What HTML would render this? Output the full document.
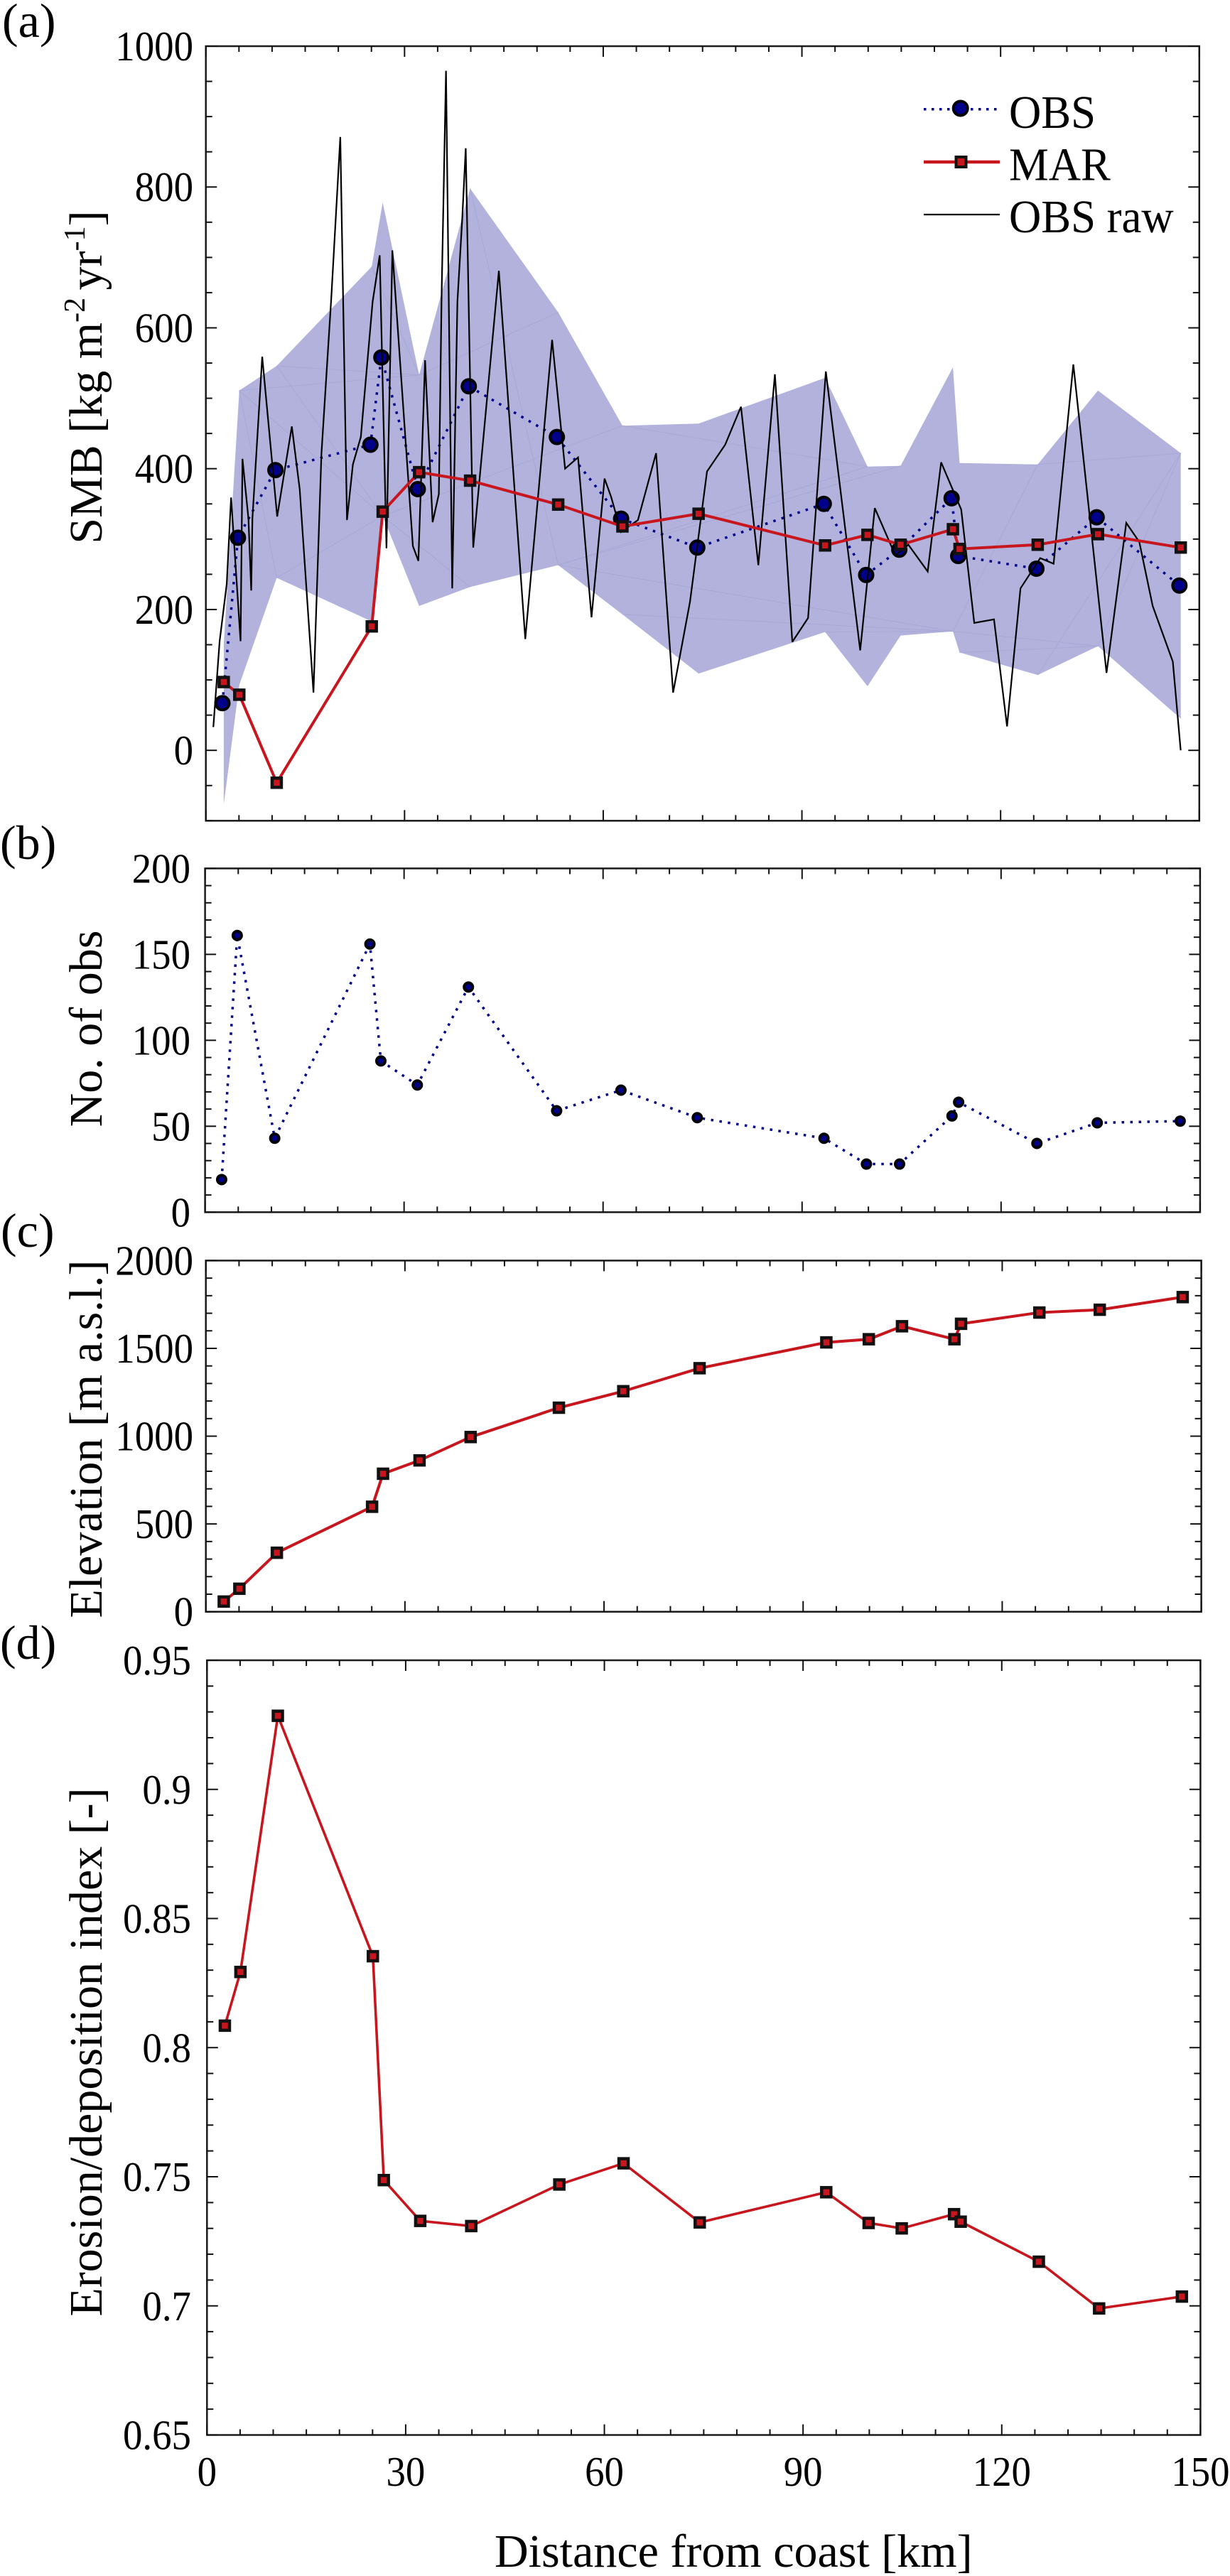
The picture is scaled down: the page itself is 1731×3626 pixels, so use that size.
<!DOCTYPE html>
<html lang="en">
<head>
<meta charset="utf-8">
<title>SMB, number of observations, elevation and erosion/deposition index vs distance from coast</title>
<style>
  html, body { margin: 0; padding: 0; background: #fff; }
  svg { display: block; }
  text { font-family: "Liberation Serif", serif; fill: #000; }
</style>
</head>
<body>
<svg id="figure" xmlns="http://www.w3.org/2000/svg" width="1731" height="3626" viewBox="0 0 1731 3626">
  <rect x="0" y="0" width="1731" height="3626" fill="#fff"/>

  <g id="panel-a"></g>
  <g id="panel-b"></g>
  <g id="panel-c"></g>
  <g id="panel-d"></g>

  <text x="3" y="52" font-size="68">(a)</text>
  <text x="0" y="1209" font-size="68">(b)</text>
  <text x="1" y="1755" font-size="68">(c)</text>
  <text x="0" y="2335" font-size="68">(d)</text>

  <text font-size="66" text-anchor="middle" transform="translate(143,531) rotate(-90)">SMB [kg m<tspan font-size="42" dy="-24">-2 </tspan><tspan dy="24">yr</tspan><tspan font-size="42" dy="-24">-1</tspan><tspan dy="24">]</tspan></text>
  <text font-size="66" text-anchor="middle" transform="translate(143,1448) rotate(-90)">No. of obs</text>
  <text font-size="66" text-anchor="middle" transform="translate(143,2025.5) rotate(-90)">Elevation [m a.s.l.]</text>
  <text font-size="66" text-anchor="middle" transform="translate(143,2888.5) rotate(-90)">Erosion/deposition index [-]</text>
  <text x="696" y="3613" font-size="66">Distance from coast [km]</text>

  <g>
    <line x1="1300" y1="153.8" x2="1407" y2="153.8" stroke="#00008b" stroke-width="3.5" stroke-dasharray="3.5,7.5"/>
    <circle cx="1351.7" cy="152.5" r="10" fill="#00008b" stroke="#000" stroke-width="4"/>
    <text font-size="66" transform="translate(1420,180) scale(0.95,1)">OBS</text>
    <line x1="1300" y1="228" x2="1407" y2="228" stroke="#c8161e" stroke-width="4.5"/>
    <rect x="1345.5" y="221" width="14" height="14" fill="#c8161e" stroke="#111" stroke-width="4"/>
    <text font-size="66" transform="translate(1420,253.4) scale(0.95,1)">MAR</text>
    <line x1="1300" y1="302" x2="1407" y2="302" stroke="#000" stroke-width="2.2"/>
    <text font-size="66" transform="translate(1420,327) scale(0.95,1)">OBS raw</text>
  </g>
</svg>

<script>
// ---- Data ----
const marDistanceKm = [2.7, 5.05, 10.7, 25.05, 26.7, 32.2, 39.9, 53.2, 62.9, 74.4, 93.5, 99.9, 104.9, 112.8, 113.8, 125.6, 134.7, 147.2];
const obsDistanceKm = [2.5, 4.85, 10.5, 24.85, 26.5, 32.0, 39.7, 53.0, 62.7, 74.2, 93.3, 99.7, 104.7, 112.6, 113.6, 125.4, 134.5, 147.0];
const marSmb = [97, 79, -46, 176, 339, 395, 383, 349, 318, 336, 291, 306, 292, 314, 286, 292, 307, 288];
const obsSmb = [67, 302, 398, 434, 558, 371, 517, 445, 329, 288, 350, 249, 285, 358, 276, 258, 331, 234];
const bandUpper = [150, 511, 546, 687, 778, 533, 798, 622, 461, 464, 529, 403, 404, 544, 408, 406, 511, 422];
const bandLower = [-77, 93, 245, 183, 333, 205, 232, 263, 193, 109, 168, 91, 163, 169, 139, 107, 148, 45];
const bandSeams = [
  ['u',1,'u',5], ['u',2,'u',5], ['u',5,'u',7], ['u',3,'u',5], ['u',1,'l',2],
  ['u',2,'l',4], ['l',2,'l',4], ['l',4,'l',6], ['l',4,'u',8], ['u',1,'l',4],
  ['l',7,'u',11], ['u',8,'u',11], ['u',12,'l',7], ['l',7,'l',13], ['l',8,'l',13], ['l',10,'l',13],
  ['l',13,'u',15], ['l',13,'l',16], ['l',14,'l',16], ['l',16,'u',17], ['l',15,'u',17], ['u',15,'u',17],
  ['u',6,'l',7]
];
const rawDistanceKm = [1.13, 2.08, 3.15, 3.81, 5.24, 5.53, 6.43, 6.85, 7.03, 8.51, 10.77, 12.98, 14.17, 16.25, 17.45, 18.93, 20.3, 21.31, 22.2, 23.4, 25.18, 26.25, 27.27, 28.16, 31.26, 32.09, 33.1, 34.24, 35.18, 35.6, 36.26, 37.2, 37.98, 38.7, 39.24, 40.37, 44.24, 48.23, 52.28, 54.24, 56.2, 58.23, 60.2, 61.19, 62.68, 65.24, 67.98, 70.55, 73.1, 75.67, 78.41, 80.8, 83.42, 85.92, 88.55, 90.93, 93.61, 98.8, 101, 104.1, 106.07, 108.99, 111.02, 114.05, 116.02, 119, 120.97, 123, 125.98, 128, 130.98, 135.99, 138.97, 140.94, 142.96, 146, 147.19];
const rawSmb = [33, 155, 236, 359, 155, 414, 329, 227, 329, 559, 332, 460, 371, 82, 421, 641, 871, 327, 406, 445, 637, 703, 287, 710, 290, 269, 554, 324, 364, 649, 965, 230, 637, 753, 855, 288, 681, 158, 583, 400, 416, 189, 386, 360, 310, 327, 422, 82, 211, 396, 434, 488, 263, 534, 154, 188, 538, 142, 344, 277, 292, 254, 409, 342, 181, 186, 34, 230, 273, 265, 548, 110, 323, 296, 205, 126, 0];
const obsCount = [19, 161, 43, 156, 88, 74, 131, 59, 71, 55, 43, 28, 28, 56, 64, 40, 52, 53];
const elevation = [58, 131, 336, 598, 786, 862, 995, 1162, 1256, 1387, 1534, 1552, 1626, 1552, 1640, 1704, 1720, 1792];
const erosionIndex = [0.8085, 0.8293, 0.9285, 0.8354, 0.7487, 0.7329, 0.7309, 0.7470, 0.7552, 0.7323, 0.7440, 0.7321, 0.7300, 0.7355, 0.7326, 0.7171, 0.6990, 0.7036];

// ---- Tick values and labels ----
const xTickValues = [0, 30, 60, 90, 120, 150];
const xTickLabels = ['0', '30', '60', '90', '120', '150'];
const smbTickValues = [0, 200, 400, 600, 800, 1000];
const smbTickLabels = ['0', '200', '400', '600', '800', '1000'];
const countTickValues = [0, 50, 100, 150, 200];
const countTickLabels = ['0', '50', '100', '150', '200'];
const elevationTickValues = [0, 500, 1000, 1500, 2000];
const elevationTickLabels = ['0', '500', '1000', '1500', '2000'];
const erosionTickValues = [0.65, 0.7, 0.75, 0.8, 0.85, 0.9, 0.95];
const erosionTickLabels = ['0.65', '0.7', '0.75', '0.8', '0.85', '0.9', '0.95'];

// ---- Helpers ----
const SVG_NS = 'http://www.w3.org/2000/svg';
function mk(tag, attrs, parent) {
  const el = document.createElementNS(SVG_NS, tag);
  for (const k in attrs) el.setAttribute(k, attrs[k]);
  parent.appendChild(el);
  return el;
}
function linearScale(d0, d1, r0, r1) {
  return function (v) { return r0 + (v - d0) / (d1 - d0) * (r1 - r0); };
}
function pathFrom(xs, ys, sx, sy) {
  return xs.map(function (x, i) { return (i ? 'L' : 'M') + sx(x).toFixed(2) + ' ' + sy(ys[i]).toFixed(2); }).join(' ');
}
function drawAxes(g, box, sx, sy, domainY, minorY, yValues, yLabels, showX) {
  const frame = mk('rect', { x: box.left, y: box.top, width: box.right - box.left, height: box.bottom - box.top, fill: 'none', stroke: '#1a1a1a', 'stroke-width': 2.5 }, g);
  
  

  for (let km = 0; km <= 150; km += 5) {
    const len = km % 30 === 0 ? 15 : 8;
    const px = sx(km);
    const bt = mk('line', { x1: px, x2: px, y1: box.bottom, y2: box.bottom - len, stroke: '#111', 'stroke-width': 2 }, g);
    
    
    const tt = mk('line', { x1: px, x2: px, y1: box.top, y2: box.top + len, stroke: '#111', 'stroke-width': 2 }, g);
    
    
  }

  const count = Math.round((domainY[1] - domainY[0]) / minorY);
  for (let i = 0; i <= count; i++) {
    const v = domainY[0] + i * minorY;
    const isMajor = yValues.some(function (t) { return Math.abs(t - v) < minorY / 100; });
    const len = isMajor ? 15.5 : 9;
    const py = sy(v);
    const lt = mk('line', { x1: box.left, x2: box.left + len, y1: py, y2: py, stroke: '#111', 'stroke-width': 2 }, g);
    
    
    const rt = mk('line', { x1: box.right, x2: box.right - len, y1: py, y2: py, stroke: '#111', 'stroke-width': 2 }, g);
    
    
  }

  yValues.forEach(function (v, i) {
    const t = mk('text', { 'font-size': 59, 'text-anchor': 'end', transform: 'translate(' + box.labelRight + ',' + (sy(v) + 20) + ') scale(0.93,1)' }, g);
    t.textContent = yLabels[i];
    
    
  });

  if (showX) {
    xTickValues.forEach(function (v, i) {
      const t = mk('text', { 'font-size': 59, 'text-anchor': 'middle', transform: 'translate(' + sx(v) + ',3499) scale(0.93,1)' }, g);
      t.textContent = xTickLabels[i];
      
      
    });
  }
}

// ---- Panel layout (pixels) ----
const boxA = { left: 289.7, right: 1687.8, top: 65, bottom: 1155.3, labelRight: 272 };
const boxB = { left: 288.6, right: 1688.9, top: 1222.4, bottom: 1706.3, labelRight: 268 };
const boxC = { left: 289.7, right: 1690.6, top: 1774.4, bottom: 2268.7, labelRight: 272 };
const boxD = { left: 291.3, right: 1689.4, top: 2337, bottom: 3427.5, labelRight: 269 };

// ---- Panel (a) ----
(function () {
  const g = document.getElementById('panel-a');
  const sx = linearScale(0, 150, boxA.left, boxA.right);
  const sy = linearScale(-100, 1000, boxA.bottom, boxA.top);

  let bandPts = marDistanceKm.map(function (x, i) { return sx(x).toFixed(2) + ',' + sy(bandUpper[i]).toFixed(2); });
  for (let i = marDistanceKm.length - 1; i >= 0; i--) {
    bandPts.push(sx(marDistanceKm[i]).toFixed(2) + ',' + sy(bandLower[i]).toFixed(2));
  }
  const band = mk('polygon', { points: bandPts.join(' '), fill: '#b2b2dc', stroke: 'none' }, g);
  
  

  bandSeams.forEach(function (s) {
    const y1 = s[0] === 'u' ? bandUpper[s[1]] : bandLower[s[1]];
    const y2 = s[2] === 'u' ? bandUpper[s[3]] : bandLower[s[3]];
    const seam = mk('line', { x1: sx(marDistanceKm[s[1]]), y1: sy(y1), x2: sx(marDistanceKm[s[3]]), y2: sy(y2), stroke: '#a8a8d8', 'stroke-width': 1 }, g);
    
    
  });

  const obsLine = mk('path', { d: pathFrom(obsDistanceKm, obsSmb, sx, sy), fill: 'none', stroke: '#00008b', 'stroke-width': 3.5, 'stroke-dasharray': '3.5,8.5' }, g);
  
  
  obsSmb.forEach(function (v, i) {
    const c = mk('circle', { cx: sx(obsDistanceKm[i]), cy: sy(v), r: 9.5, fill: '#00008b', stroke: '#000', 'stroke-width': 4 }, g);
    
    
  });

  const raw = mk('path', { d: pathFrom(rawDistanceKm, rawSmb, sx, sy), fill: 'none', stroke: '#000', 'stroke-width': 2.2, 'stroke-linejoin': 'miter', 'stroke-miterlimit': 3 }, g);
  
  

  const marLine = mk('path', { d: pathFrom(marDistanceKm, marSmb, sx, sy), fill: 'none', stroke: '#c8161e', 'stroke-width': 4 }, g);
  
  
  marSmb.forEach(function (v, i) {
    const r = mk('rect', { x: sx(marDistanceKm[i]) - 6.5, y: sy(v) - 6.5, width: 13, height: 13, fill: '#c8161e', stroke: '#111', 'stroke-width': 4.5 }, g);
    
    
  });

  drawAxes(g, boxA, sx, sy, [-100, 1000], 50, smbTickValues, smbTickLabels, false);
})();

// ---- Panel (b) ----
(function () {
  const g = document.getElementById('panel-b');
  const sx = linearScale(0, 150, boxB.left, boxB.right);
  const sy = linearScale(0, 200, boxB.bottom, boxB.top);
  drawAxes(g, boxB, sx, sy, [0, 200], 10, countTickValues, countTickLabels, false);
  const line = mk('path', { d: pathFrom(obsDistanceKm, obsCount, sx, sy), fill: 'none', stroke: '#00008b', 'stroke-width': 3.5, 'stroke-dasharray': '3.5,8.5' }, g);
  
  
  obsCount.forEach(function (v, i) {
    const c = mk('circle', { cx: sx(obsDistanceKm[i]), cy: sy(v), r: 6, fill: '#00008b', stroke: '#000', 'stroke-width': 4 }, g);
    
    
  });
})();

// ---- Panel (c) ----
(function () {
  const g = document.getElementById('panel-c');
  const sx = linearScale(0, 150, boxC.left, boxC.right);
  const sy = linearScale(0, 2000, boxC.bottom, boxC.top);
  drawAxes(g, boxC, sx, sy, [0, 2000], 100, elevationTickValues, elevationTickLabels, false);
  const line = mk('path', { d: pathFrom(marDistanceKm, elevation, sx, sy), fill: 'none', stroke: '#c8161e', 'stroke-width': 4 }, g);
  
  
  elevation.forEach(function (v, i) {
    const r = mk('rect', { x: sx(marDistanceKm[i]) - 6.5, y: sy(v) - 6.5, width: 13, height: 13, fill: '#c8161e', stroke: '#111', 'stroke-width': 4.5 }, g);
    
    
  });
})();

// ---- Panel (d) ----
(function () {
  const g = document.getElementById('panel-d');
  const sx = linearScale(0, 150, boxD.left, boxD.right);
  const sy = linearScale(0.65, 0.95, boxD.bottom, boxD.top);
  drawAxes(g, boxD, sx, sy, [0.65, 0.95], 0.01, erosionTickValues, erosionTickLabels, true);
  const line = mk('path', { d: pathFrom(marDistanceKm, erosionIndex, sx, sy), fill: 'none', stroke: '#c8161e', 'stroke-width': 3.6 }, g);
  
  
  erosionIndex.forEach(function (v, i) {
    const r = mk('rect', { x: sx(marDistanceKm[i]) - 6.5, y: sy(v) - 6.5, width: 13, height: 13, fill: '#c8161e', stroke: '#111', 'stroke-width': 4.5 }, g);
    
    
  });
})();
</script>
</body>
</html>
